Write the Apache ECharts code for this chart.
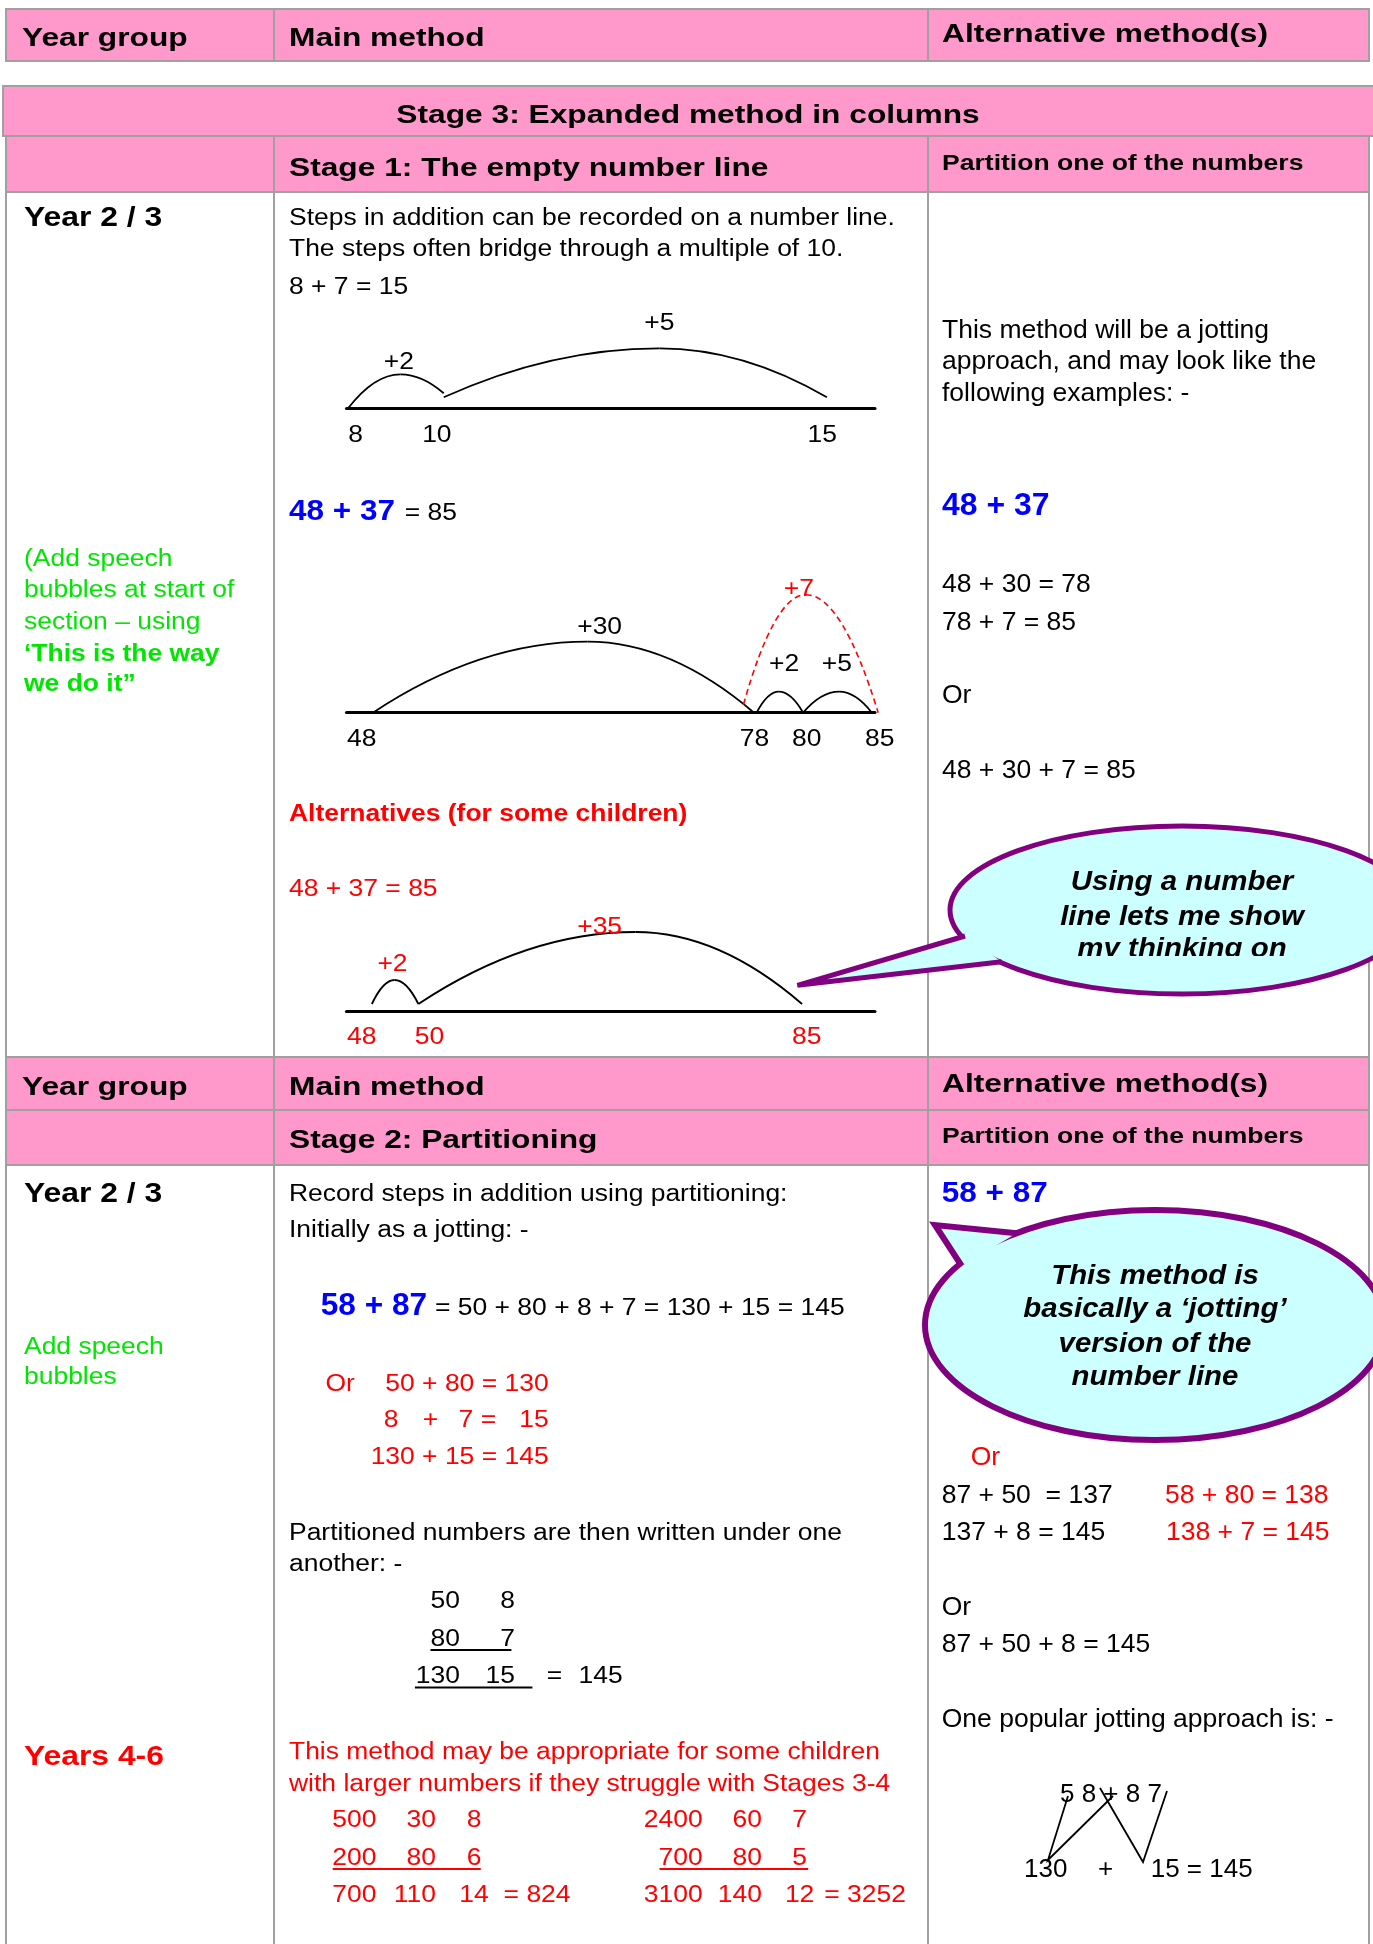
<!DOCTYPE html>
<html>
<head>
<meta charset="utf-8">
<script src="https://cdn.jsdelivr.net/npm/echarts@6/dist/echarts.min.js"></script>
<style>
html, body { margin: 0; padding: 0; background: #fff; }
#main { width: 1373px; height: 1944px; }
</style>
</head>
<body>
<div id="main"></div>
<script>
// ---- page content ----
var headerCells = ['Year group', 'Main method', 'Alternative method(s)'];
var stageTitles = ['Stage 3: Expanded method in columns', 'Stage 1: The empty number line', 'Stage 2: Partitioning'];
var altSubtitle = 'Partition one of the numbers';
var yearLabels = ['Year 2 / 3', 'Year 2 / 3', 'Years 4-6'];
var noteStage1 = ['(Add speech', 'bubbles at start of', 'section \u2013 using', '\u2018This is the way', 'we do it\u201d'];
var noteStage2 = ['Add speech', 'bubbles'];

var stage1Text = ['Steps in addition can be recorded on a number line.', 'The steps often bridge through a multiple of 10.', '8 + 7 = 15'];
var stage1Sum = ['48 + 37', '= 85'];
var stage1Alt = ['Alternatives (for some children)', '48 + 37 = 85'];

// empty number lines: position along the drawn line (0 = left end, 100 = right end)
var line1Ticks = [[1.7, '8'], [17.1, '10'], [90.0, '15']];
var line2Ticks = [[2.9, '48'], [77.2, '78'], [87.1, '80'], [100.9, '85']];
var line3Ticks = [[2.9, '48'], [15.7, '50'], [87.1, '85']];
// jumps: [from, fromHeight, peak, peakHeight, to, toHeight, labelAt, labelHeight, label]
var line1Jumps = [
    [0.3, 0, 10.2, 34, 18.4, 15, 9.9, 46, '+2'],
    [18.4, 11, 59.2, 60, 90.9, 11, 59.2, 85, '+5']
];
var line2Jumps = [
    [5.0, 0, 45.6, 71, 77.1, 0, 47.9, 85, '+30'],
    [77.6, 0, 81.8, 21, 86.4, 0, 82.8, 48, '+2'],
    [86.4, 0, 93.2, 21, 99.4, 0, 92.8, 48, '+5']
];
var line2Bridge = [[75.1, 8, 86.9, 118, 100.6, 0, 85.6, 123, '+7']];
var line3Jumps = [
    [4.8, 7, 9.1, 31, 13.6, 7, 8.7, 46, '+2'],
    [13.6, 7, 54.7, 79, 86.2, 7, 47.9, 83, '+35']
];

var altIntro = ['This method will be a jotting', 'approach, and may look like the', 'following examples: -'];
var altSum1 = '48 + 37';
var altSteps1 = ['48 + 30 = 78', '78 + 7 = 85', 'Or', '48 + 30 + 7 = 85'];
var bubble1 = ['Using a number', 'line lets me show', 'my thinking on'];
var bubble2 = ['This method is', 'basically a \u2018jotting\u2019', 'version of the', 'number line'];

var partIntro = ['Record steps in addition using partitioning:', 'Initially as a jotting: -'];
var partSum = ['58 + 87', '= 50 + 80 + 8 + 7 = 130 + 15 = 145'];
var partOr = ['Or', '50 + 80 = 130', '8', '+', '7 =', '15', '130 + 15 = 145'];
var partColumns = ['Partitioned numbers are then written under one', 'another: -'];
var colRows = [['50', '8'], ['80', '7'], ['130', '15']];
var colTotal = ['=', '145'];
var bigNote = ['This method may be appropriate for some children', 'with larger numbers if they struggle with Stages 3-4'];
var bigLeft = [['500', '30', '8'], ['200', '80', '6'], ['700', '110', '14']];
var bigLeftTotal = '= 824';
var bigRight = [['2400', '60', '7'], ['700', '80', '5'], ['3100', '140', '12']];
var bigRightTotal = '= 3252';
var altSum2 = '58 + 87';
var altSteps2 = [['87 + 50  = 137', '58 + 80 = 138'], ['137 + 8 = 145', '138 + 7 = 145']];
var altMore2 = ['Or', '87 + 50 + 8 = 145', 'One popular jotting approach is: -'];
var jotting = ['5 8 + 8 7', '130', '+', '15 = 145'];

// ---- styles ----
var FONT = '"Liberation Sans", Arial, Helvetica, sans-serif';
var PINK = '#ff99cc', RULE = '#a0a0a0', BLUE = '#0000ff', RED = '#ff0000', GREEN = '#00e600';
var PURPLE = '#800080', CYAN = '#ccffff';
var TY = 2.5; // text baseline nudge

var els = [];
function txt(x, y, s, o) {
    o = o || {};
    els.push({
        type: 'text', x: x, y: y + TY, scaleX: o.sx || 1, z: o.z || 10, silent: true,
        style: {
            text: s, fill: o.color || '#000',
            font: (o.italic ? 'italic ' : '') + (o.bold ? 'bold ' : '') + (o.size || 23) + 'px ' + FONT,
            align: o.align || 'left', verticalAlign: 'middle'
        }
    });
}
function rule(x1, y1, x2, y2, color, w, z) {
    els.push({ type: 'line', z: z || 1, silent: true, shape: { x1: x1, y1: y1, x2: x2, y2: y2 },
        style: { stroke: color || RULE, lineWidth: w || 2 } });
}
function box(x, y, w, h, fill) {
    els.push({ type: 'rect', z: 1, silent: true, shape: { x: x, y: y, width: w, height: h },
        style: { fill: fill || 'none', stroke: RULE, lineWidth: 2 } });
}
function bubble(cx, cy, rx, ry, tail, lw) {
    els.push({ type: 'ellipse', z: 20, silent: true, shape: { cx: cx, cy: cy, rx: rx, ry: ry },
        style: { fill: CYAN, stroke: PURPLE, lineWidth: lw } });
    els.push({ type: 'polygon', z: 21, silent: true, shape: { points: tail },
        style: { fill: CYAN } });
    els.push({ type: 'polyline', z: 22, silent: true, shape: { points: tail },
        style: { fill: 'none', stroke: PURPLE, lineWidth: lw, lineJoin: 'miter' } });
}

// column styles
var M = { size: 23, sx: 1.15 };            // main / year columns
var R = { size: 26.5 };                     // alternative column
var H = { size: 26, bold: true, sx: 1.22 }; // header rows
function w(o, extra) { var r = {}; for (var k in o) r[k] = o[k]; for (var k2 in extra) r[k2] = extra[k2]; return r; }

// ---- table ----
box(6, 9, 1363, 52, PINK);
box(3, 86, 1372, 50, PINK);
box(6, 136, 1363, 56, PINK);
box(6, 192, 1363, 865);
box(6, 1057, 1363, 53, PINK);
box(6, 1110, 1363, 55, PINK);
box(6, 1165, 1363, 800);
[274, 928].forEach(function (x) {
    rule(x, 9, x, 61);
    rule(x, 136, x, 1950);
});

// header rows
txt(22, 36, headerCells[0], H);
txt(289, 36, headerCells[1], H);
txt(942, 32, headerCells[2], H);
txt(688, 113, stageTitles[0], w(H, { align: 'center' }));
txt(289, 166, stageTitles[1], H);
txt(942, 161, altSubtitle, { size: 22.5, bold: true, sx: 1.18 });
txt(22, 1085, headerCells[0], H);
txt(289, 1085, headerCells[1], H);
txt(942, 1082, headerCells[2], H);
txt(289, 1138, stageTitles[2], H);
txt(942, 1134, altSubtitle, { size: 22.5, bold: true, sx: 1.18 });

// year column
var Y = { size: 27, bold: true, sx: 1.18 };
txt(24, 216, yearLabels[0], Y);
txt(24, 1192, yearLabels[1], Y);
txt(24, 1755, yearLabels[2], w(Y, { color: RED }));
[557, 588, 620, 652, 682].forEach(function (y, i) {
    txt(24, y, noteStage1[i], w(M, { color: GREEN, bold: i >= 3 }));
});
txt(24, 1345, noteStage2[0], w(M, { color: GREEN }));
txt(24, 1375, noteStage2[1], w(M, { color: GREEN }));

// main column, stage 1
txt(289, 216, stage1Text[0], M);
txt(289, 247, stage1Text[1], M);
txt(289, 285, stage1Text[2], M);
txt(289, 509, stage1Sum[0], { size: 30, bold: true, sx: 1.05, color: BLUE });
txt(404.7, 511, stage1Sum[1], M);
txt(289, 812, stage1Alt[0], { size: 23, bold: true, sx: 1.15, color: RED });
txt(289, 887, stage1Alt[1], w(M, { color: RED }));

// alternative column, stage 1
txt(942, 328, altIntro[0], R);
txt(942, 359, altIntro[1], R);
txt(942, 391, altIntro[2], R);
txt(942, 504, altSum1, { size: 31, bold: true, sx: 1.03, color: BLUE });
txt(942, 582, altSteps1[0], R);
txt(942, 620, altSteps1[1], R);
txt(942, 693, altSteps1[2], R);
txt(942, 768, altSteps1[3], R);

// main column, stage 2
txt(289, 1192, partIntro[0], M);
txt(289, 1228, partIntro[1], M);
txt(320.7, 1304, partSum[0], { size: 31, bold: true, sx: 1.02, color: BLUE });
txt(435, 1306, partSum[1], M);
var MR = w(M, { color: RED });
txt(325.5, 1382, partOr[0], MR);
txt(548.6, 1382, partOr[1], w(MR, { align: 'right' }));
txt(383.7, 1418, partOr[2], MR);
txt(422.7, 1418, partOr[3], MR);
txt(458.6, 1418, partOr[4], MR);
txt(548.6, 1418, partOr[5], w(MR, { align: 'right' }));
txt(548.6, 1455, partOr[6], w(MR, { align: 'right' }));
txt(289, 1531, partColumns[0], M);
txt(289, 1562, partColumns[1], M);
[1599, 1637, 1674].forEach(function (y, i) {
    txt(460, y, colRows[i][0], w(M, { align: 'right' }));
    txt(515, y, colRows[i][1], w(M, { align: 'right' }));
});
txt(546.8, 1674, colTotal[0], M);
txt(578.5, 1674, colTotal[1], M);
rule(430.5, 1650, 511.4, 1650, '#000', 2, 10);
rule(414.9, 1687.5, 532.4, 1687.5, '#000', 2, 10);
txt(289, 1750, bigNote[0], MR);
txt(289, 1782, bigNote[1], MR);
[1818, 1856, 1893].forEach(function (y, i) {
    txt(376.5, y, bigLeft[i][0], w(MR, { align: 'right' }));
    txt(435.9, y, bigLeft[i][1], w(MR, { align: 'right' }));
    txt(474, y, bigLeft[i][2], w(MR, { align: 'center' }));
    txt(702.6, y, bigRight[i][0], w(MR, { align: 'right' }));
    txt(762, y, bigRight[i][1], w(MR, { align: 'right' }));
    txt(799.6, y, bigRight[i][2], w(MR, { align: 'center' }));
});
txt(503.6, 1893, bigLeftTotal, MR);
txt(824.3, 1893, bigRightTotal, MR);
rule(332.7, 1869, 480.8, 1869, RED, 2, 10);
rule(659.5, 1869, 808.2, 1869, RED, 2, 10);

// alternative column, stage 2
txt(941.7, 1191, altSum2, { size: 30, bold: true, sx: 1.05, color: BLUE });
txt(970.7, 1455, altSteps1[2], w(R, { color: RED }));
txt(941.7, 1493, altSteps2[0][0], R);
txt(1165, 1493, altSteps2[0][1], w(R, { color: RED }));
txt(941.7, 1530, altSteps2[1][0], R);
txt(1166, 1530, altSteps2[1][1], w(R, { color: RED }));
txt(941.7, 1605, altMore2[0], R);
txt(941.7, 1642, altMore2[1], R);
txt(941.7, 1717, altMore2[2], R);
txt(1060, 1792, jotting[0], { size: 26 });
txt(1024, 1867, jotting[1], { size: 26 });
txt(1098, 1867, jotting[2], { size: 26 });
txt(1150.7, 1867, jotting[3], { size: 26 });
els.push({ type: 'polyline', z: 11, silent: true, shape: { points: [[1068, 1796], [1048, 1860], [1113, 1796]] },
    style: { fill: 'none', stroke: '#000', lineWidth: 1.8 } });
els.push({ type: 'polyline', z: 11, silent: true, shape: { points: [[1100, 1788], [1143, 1862], [1167, 1791]] },
    style: { fill: 'none', stroke: '#000', lineWidth: 1.8 } });

// speech bubbles
bubble(1182, 910, 232, 84, [[965, 936], [797.4, 985.3], [1001.7, 961.7]], 5);
var BB = { size: 27, bold: true, italic: true, sx: 1.09, align: 'center', z: 25 };
txt(1182, 880, bubble1[0], BB);
txt(1182, 915, bubble1[1], BB);
txt(1182, 947, bubble1[2], BB);
els.push({ type: 'rect', z: 26, silent: true, shape: { x: 1050, y: 956, width: 270, height: 16 }, style: { fill: CYAN } });
bubble(1155, 1325, 230, 115, [[1016.7, 1233.3], [935, 1225], [961.7, 1266]], 6);
txt(1155, 1274, bubble2[0], BB);
txt(1155, 1307, bubble2[1], BB);
txt(1155, 1342, bubble2[2], BB);
txt(1155, 1375, bubble2[3], BB);

// ---- number lines (one grid each, y in px above the line) ----
var numberLines = [
    { y: 408.3, ticks: line1Ticks, jumps: line1Jumps, color: '#000' },
    { y: 712.7, ticks: line2Ticks, jumps: line2Jumps, color: '#000' },
    { y: 1011, ticks: line3Ticks, jumps: line3Jumps, color: RED }
];

function jumpRenderer(jumps, labelColor, dashed) {
    return function (params, api) {
        var j = jumps[params.dataIndex];
        var a = api.coord([j[0], j[1]]), p = api.coord([j[2], j[3]]);
        var b = api.coord([j[4], j[5]]), t = api.coord([j[6], j[7]]);
        var st = { fill: 'none', stroke: dashed ? RED : '#000', lineWidth: dashed ? 1.6 : 1.8 };
        if (dashed) st.lineDash = [6, 4];
        return {
            type: 'group',
            children: [
                { type: 'bezierCurve', shape: { x1: a[0], y1: a[1], cpx1: (a[0] + p[0]) / 2, cpy1: p[1], x2: p[0], y2: p[1] }, style: st },
                { type: 'bezierCurve', shape: { x1: p[0], y1: p[1], cpx1: (p[0] + b[0]) / 2, cpy1: p[1], x2: b[0], y2: b[1] }, style: st },
                { type: 'text', x: t[0], y: t[1], scaleX: 1.15,
                  style: { text: j[8], fill: labelColor, font: '23px ' + FONT, align: 'center', verticalAlign: 'middle' } }
            ]
        };
    };
}
function tickRenderer(ticks, color) {
    return function (params, api) {
        var t = ticks[params.dataIndex];
        var p = api.coord([t[0], 0]);
        return { type: 'text', x: p[0], y: p[1] + 27, scaleX: 1.15,
            style: { text: t[1], fill: color, font: '23px ' + FONT, align: 'center', verticalAlign: 'middle' } };
    };
}

var grids = [], xAxes = [], yAxes = [], series = [];
numberLines.forEach(function (nl, i) {
    grids.push({ left: 346.5, width: 528.5, top: nl.y - 130, height: 130 });
    xAxes.push({ type: 'value', gridIndex: i, min: 0, max: 100,
        axisLine: { show: true, onZero: false, lineStyle: { color: '#000', width: 3 } },
        axisTick: { show: false }, axisLabel: { show: false }, splitLine: { show: false } });
    yAxes.push({ type: 'value', gridIndex: i, min: 0, max: 130, show: false });
    series.push({ type: 'custom', xAxisIndex: i, yAxisIndex: i, silent: true, clip: false,
        data: nl.jumps, renderItem: jumpRenderer(nl.jumps, nl.color, false) });
    series.push({ type: 'custom', xAxisIndex: i, yAxisIndex: i, silent: true, clip: false,
        data: nl.ticks, renderItem: tickRenderer(nl.ticks, nl.color) });
});
series.push({ type: 'custom', xAxisIndex: 1, yAxisIndex: 1, silent: true, clip: false,
    data: line2Bridge, renderItem: jumpRenderer(line2Bridge, RED, true) });

var myChart = echarts.init(document.getElementById('main'));
myChart.setOption({
    backgroundColor: '#ffffff',
    animation: false,
    grid: grids,
    xAxis: xAxes,
    yAxis: yAxes,
    series: series,
    graphic: { elements: els }
});
</script>
</body>
</html>
